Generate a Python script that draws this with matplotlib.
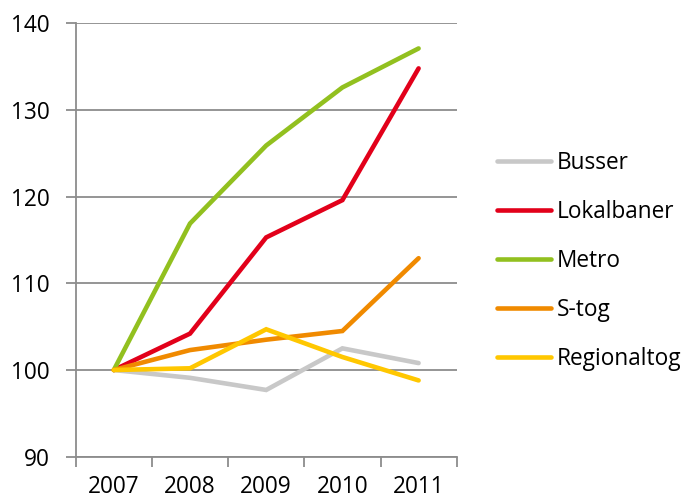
import matplotlib
matplotlib.use("Agg")
import matplotlib.pyplot as plt
import numpy as np

years = ["2007", "2008", "2009", "2010", "2011"]
busser = [100, 99.1, 97.7, 102.5, 100.8]
lokalbaner = [100, 104.2, 115.3, 119.6, 134.8]
metro = [100, 116.9, 125.9, 132.6, 137.1]
stog = [100, 102.3, 103.5, 104.5, 112.9]
regionaltog = [100, 100.2, 104.7, 101.5, 98.8]

series = [
    ("Busser", busser, "#C8C8C8"),
    ("Lokalbaner", lokalbaner, "#E2001A"),
    ("Metro", metro, "#92C01F"),
    ("S-tog", stog, "#F08A00"),
    ("Regionaltog", regionaltog, "#FFC700"),
]

plt.rcParams['font.family'] = ['Open Sans', 'DejaVu Sans']
FS = 16.3

fig = plt.figure(figsize=(6.85, 5), dpi=100)
ax = fig.add_axes([75.7/685, 1-456.7/500, (456.7-75.7)/685, (456.7-23.3)/500])

x = np.arange(len(years))
for name, vals, col in series:
    ax.plot(x, vals, color=col, lw=3.3, solid_capstyle='round', solid_joinstyle='miter', label=name)

ax.set_xlim(-0.5, len(years)-0.5)
ax.set_ylim(90, 140)
ax.set_yticks([90, 100, 110, 120, 130, 140])
ax.yaxis.grid(True, color="#8C8C8C", lw=1.3)
ax.set_axisbelow(True)
ax.set_xticks(x)
ax.set_xticklabels(years)
ax.set_xticks(np.arange(-0.5, len(years)), minor=True)
ax.tick_params(axis='x', which='major', length=0, labelsize=FS, pad=13.5)
ax.tick_params(axis='x', which='minor', length=7, width=1.3, color="#8C8C8C", direction='out')
ax.tick_params(axis='y', length=7, width=1.3, color="#8C8C8C", labelsize=FS, pad=12)
for s in ['top', 'right']:
    ax.spines[s].set_visible(False)
for s in ['left', 'bottom']:
    ax.spines[s].set_color("#8C8C8C")
    ax.spines[s].set_linewidth(1.3)

fig.legend(loc='center left', bbox_to_anchor=(497/685, 1-261/500), frameon=False,
           fontsize=FS, handlelength=2.4, handletextpad=0.22, labelspacing=1.10,
           borderpad=0, borderaxespad=0)

fig.savefig("out.png", dpi=100)
